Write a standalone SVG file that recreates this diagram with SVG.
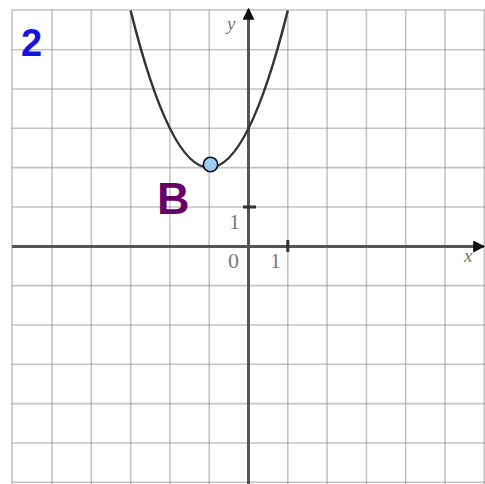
<svg xmlns="http://www.w3.org/2000/svg" width="485" height="484" viewBox="0 0 485 484">
<defs>
<style>
.grid line{stroke:#8a8a8a;stroke-opacity:0.5;stroke-width:1.6}
.axis{stroke:#555;stroke-width:3;fill:none}
.tick{stroke:#333;stroke-width:3}
.num{font-family:"Liberation Serif","DejaVu Serif",serif;font-size:22px;fill:#7a7a7a}
.var{font-family:"Liberation Serif","DejaVu Serif",serif;font-style:italic;font-size:19px;fill:#777}
</style>
<marker id="arr" viewBox="0 0 10 10" refX="9" refY="5" markerWidth="4" markerHeight="4" orient="auto" markerUnits="strokeWidth">
<path d="M0,0 L10,5 L0,10 Z" fill="#111"/>
</marker>
</defs>
<rect width="485" height="484" fill="#fff"/>
<g id="grid" class="grid">
<line x1="12" y1="10" x2="12" y2="484"/>
<line x1="52" y1="10" x2="52" y2="484"/>
<line x1="91.3" y1="10" x2="91.3" y2="484"/>
<line x1="130.6" y1="10" x2="130.6" y2="484"/>
<line x1="169.9" y1="10" x2="169.9" y2="484"/>
<line x1="209.2" y1="10" x2="209.2" y2="484"/>
<line x1="287.8" y1="10" x2="287.8" y2="484"/>
<line x1="327.1" y1="10" x2="327.1" y2="484"/>
<line x1="366.4" y1="10" x2="366.4" y2="484"/>
<line x1="405.7" y1="10" x2="405.7" y2="484"/>
<line x1="445" y1="10" x2="445" y2="484"/>
<line x1="484.3" y1="10" x2="484.3" y2="484"/>
<line x1="12" y1="10" x2="485" y2="10"/>
<line x1="12" y1="49.7" x2="485" y2="49.7"/>
<line x1="12" y1="89" x2="485" y2="89"/>
<line x1="12" y1="128.3" x2="485" y2="128.3"/>
<line x1="12" y1="167.6" x2="485" y2="167.6"/>
<line x1="12" y1="207" x2="485" y2="207"/>
<line x1="12" y1="285.6" x2="485" y2="285.6"/>
<line x1="12" y1="325" x2="485" y2="325"/>
<line x1="12" y1="364.3" x2="485" y2="364.3"/>
<line x1="12" y1="403.6" x2="485" y2="403.6"/>
<line x1="12" y1="443" x2="485" y2="443"/>
<line x1="12" y1="482.3" x2="485" y2="482.3"/>
</g>
<g id="axes">
<line class="axis" x1="12" y1="246.5" x2="484" y2="246.5" marker-end="url(#arr)"/>
<line class="axis" x1="248.5" y1="484" x2="248.5" y2="9" marker-end="url(#arr)"/>
<line class="tick" x1="243" y1="207" x2="256" y2="207"/>
<line class="tick" x1="287.8" y1="240" x2="287.8" y2="252"/>
</g>
<g id="curve">
<path d="M130.6,10.5 Q209.2,324.9 287.8,10.5" fill="none" stroke="#333" stroke-width="2.5"/>
</g>
<g id="labels">
<text class="num" x="229" y="229">1</text>
<text class="num" x="228" y="268">0</text>
<text class="num" x="270" y="268">1</text>
<text class="var" x="227" y="30">y</text>
<text class="var" x="464" y="262">x</text>
<text x="21" y="56" font-family="Liberation Sans,Arial,sans-serif" font-weight="bold" font-size="38" fill="#1414e6">2</text>
<text x="157" y="213.5" font-family="Liberation Sans,Arial,sans-serif" font-weight="bold" font-size="45" fill="#660066">B</text>
</g>
<g id="pointB">
<circle cx="210.5" cy="164.5" r="7.2" fill="#9ccbf4" stroke="#111" stroke-width="1.6"/>
</g>
</svg>
